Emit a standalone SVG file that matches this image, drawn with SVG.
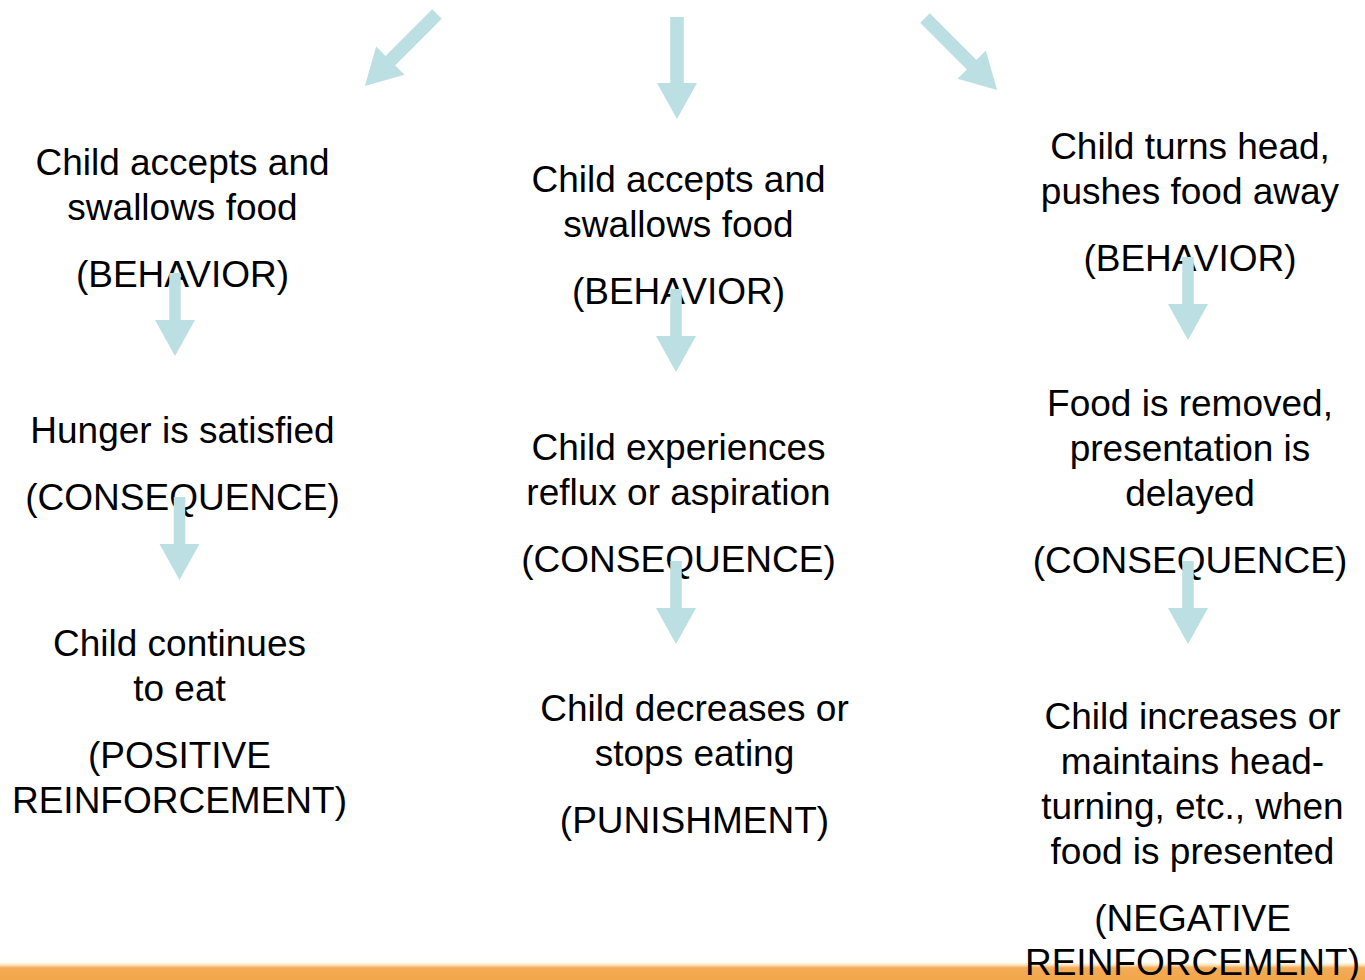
<svg xmlns="http://www.w3.org/2000/svg" width="1365" height="980" viewBox="0 0 1365 980">
  <style>
    text { font-family: "Liberation Sans", Arial, sans-serif; font-size: 37px; fill: #000; text-anchor: middle; }
    .arrow { fill: #BBDFE2; }
  </style>
  <defs>
    <linearGradient id="bar" x1="0" y1="0" x2="0" y2="1">
      <stop offset="0" stop-color="#FFFFFF"/>
      <stop offset="0.2" stop-color="#FFFDF4"/>
      <stop offset="0.32" stop-color="#FBE3BC"/>
      <stop offset="0.45" stop-color="#F4AC55"/>
      <stop offset="1" stop-color="#F2A64B"/>
    </linearGradient>
    <!-- large arrow, drawn from the top centre of its shaft pointing down -->
    <path id="bigArrow" d="M-6.75 0 H6.75 V66 H20 L0 102 L-20 66 H-6.75 Z"/>
    <!-- small arrow between stages -->
    <path id="smallArrow" d="M-5.75 0 H5.75 V47 H20 L0 83 L-20 47 H-5.75 Z"/>
  </defs>

  <rect width="1365" height="980" fill="#FFFFFF"/>
  <!-- footer band -->
  <rect x="0" y="958" width="1365" height="22" fill="url(#bar)"/>

  <!-- left column: accepting food -->
  <g id="behavior-accept-1">
    <text x="182.5" y="175">Child accepts and</text>
    <text x="182.5" y="220">swallows food</text>
    <text x="182.5" y="287">(BEHAVIOR)</text>
  </g>
  <g id="consequence-hunger">
    <text x="182.5" y="443">Hunger is satisfied</text>
    <text x="182.5" y="510">(CONSEQUENCE)</text>
  </g>
  <g id="result-positive">
    <text x="179.5" y="656">Child continues</text>
    <text x="179.5" y="701">to eat</text>
    <text x="179.5" y="768">(POSITIVE</text>
    <text x="179.5" y="813">REINFORCEMENT)</text>
  </g>

  <!-- middle column: painful eating -->
  <g id="behavior-accept-2">
    <text x="678.5" y="192">Child accepts and</text>
    <text x="678.5" y="237">swallows food</text>
    <text x="678.5" y="304">(BEHAVIOR)</text>
  </g>
  <g id="consequence-reflux">
    <text x="678.5" y="460">Child experiences</text>
    <text x="678.5" y="505">reflux or aspiration</text>
    <text x="678.5" y="572">(CONSEQUENCE)</text>
  </g>
  <g id="result-punishment">
    <text x="694.5" y="721">Child decreases or</text>
    <text x="694.5" y="766">stops eating</text>
    <text x="694.5" y="833">(PUNISHMENT)</text>
  </g>

  <!-- right column: refusal -->
  <g id="behavior-refuse">
    <text x="1190" y="159">Child turns head,</text>
    <text x="1190" y="204">pushes food away</text>
    <text x="1190" y="271">(BEHAVIOR)</text>
  </g>
  <g id="consequence-removed">
    <text x="1190" y="416">Food is removed,</text>
    <text x="1190" y="461">presentation is</text>
    <text x="1190" y="506">delayed</text>
    <text x="1190" y="573">(CONSEQUENCE)</text>
  </g>
  <g id="result-negative">
    <text x="1192.5" y="729">Child increases or</text>
    <text x="1192.5" y="774">maintains head-</text>
    <text x="1192.5" y="819">turning, etc., when</text>
    <text x="1192.5" y="864">food is presented</text>
    <text x="1192.5" y="931">(NEGATIVE</text>
    <text x="1192.5" y="975">REINFORCEMENT)</text>
  </g>

  <!-- arrows sit on top of the labels -->
  <g id="connectors" class="arrow">
    <use href="#bigArrow" transform="translate(437 14) rotate(45)"/>
    <use href="#bigArrow" transform="translate(677 17)"/>
    <use href="#bigArrow" transform="translate(925 18) rotate(-45)"/>

    <use href="#smallArrow" transform="translate(175 273)"/>
    <use href="#smallArrow" transform="translate(179.5 497)"/>

    <use href="#smallArrow" transform="translate(676 289)"/>
    <use href="#smallArrow" transform="translate(676 561)"/>

    <use href="#smallArrow" transform="translate(1188 257)"/>
    <use href="#smallArrow" transform="translate(1188 561)"/>
  </g>
</svg>
